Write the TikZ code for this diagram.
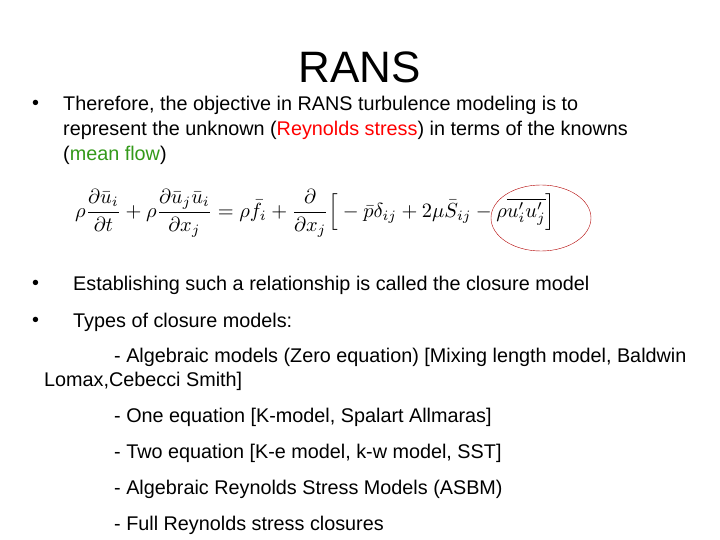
\documentclass[tikz,border=0pt]{standalone}
\usepackage{amsmath}
\usepackage{graphicx}
\usepackage{fontspec}
\setmainfont{Liberation Sans}
\begin{document}
\begin{tikzpicture}[x=1pt,y=-1pt,
  body/.style={anchor=west,inner sep=0,font=\fontsize{19.8}{23}\selectfont},
  bul/.style={anchor=west,inner sep=0,font=\fontsize{19.8}{23}\selectfont}]
\useasboundingbox (0,0) rectangle (720,540);
\node[inner sep=0,font=\fontsize{44}{48}\selectfont] (title) at (360,67) {RANS};
\node[bul] (b1) at (32,105) {•};
\node[body] (t1) at (63,105) {Therefore, the objective in RANS turbulence modeling is to};
\node[body] (t2) at (63,130) {represent the unknown (\textcolor{red}{Reynolds stress}) in terms of the knowns};
\node[body] (t3) at (63,155) {(\textcolor[rgb]{0.2,0.6,0.1}{mean flow})};
\node[inner sep=0,anchor=west] (eq) at (75,213)
 {\resizebox{480pt}{!}{$\displaystyle \rho\frac{\partial\bar{u}_i}{\partial t}+\rho\frac{\partial\bar{u}_j\bar{u}_i}{\partial x_j}=\rho\bar{f}_i+\frac{\partial}{\partial x_j}\Big[-\bar{p}\delta_{ij}+2\mu\bar{S}_{ij}-\rho\overline{u_i'u_j'}\Big]$}};
\draw[red!70!black,thin] (541,218) ellipse (50 and 33);
\node[bul] (b2) at (32,285) {•};
\node[body] (t4) at (73,285) {Establishing such a relationship is called the closure model};
\node[bul] (b3) at (32,322) {•};
\node[body] (t5) at (73,322) {Types of closure models:};
\node[body] (t6) at (114,357) {- Algebraic models (Zero equation) [Mixing length model, Baldwin};
\node[body] (t7) at (44,381) {Lomax,Cebecci Smith]};
\node[body] (t8) at (114,417) {- One equation [K-model, Spalart Allmaras]};
\node[body] (t9) at (114,453) {- Two equation [K-e model, k-w model, SST]};
\node[body] (t10) at (114,489) {- Algebraic Reynolds Stress Models (ASBM)};
\node[body] (t11) at (114,525) {- Full Reynolds stress closures};
\end{tikzpicture}
\end{document}
